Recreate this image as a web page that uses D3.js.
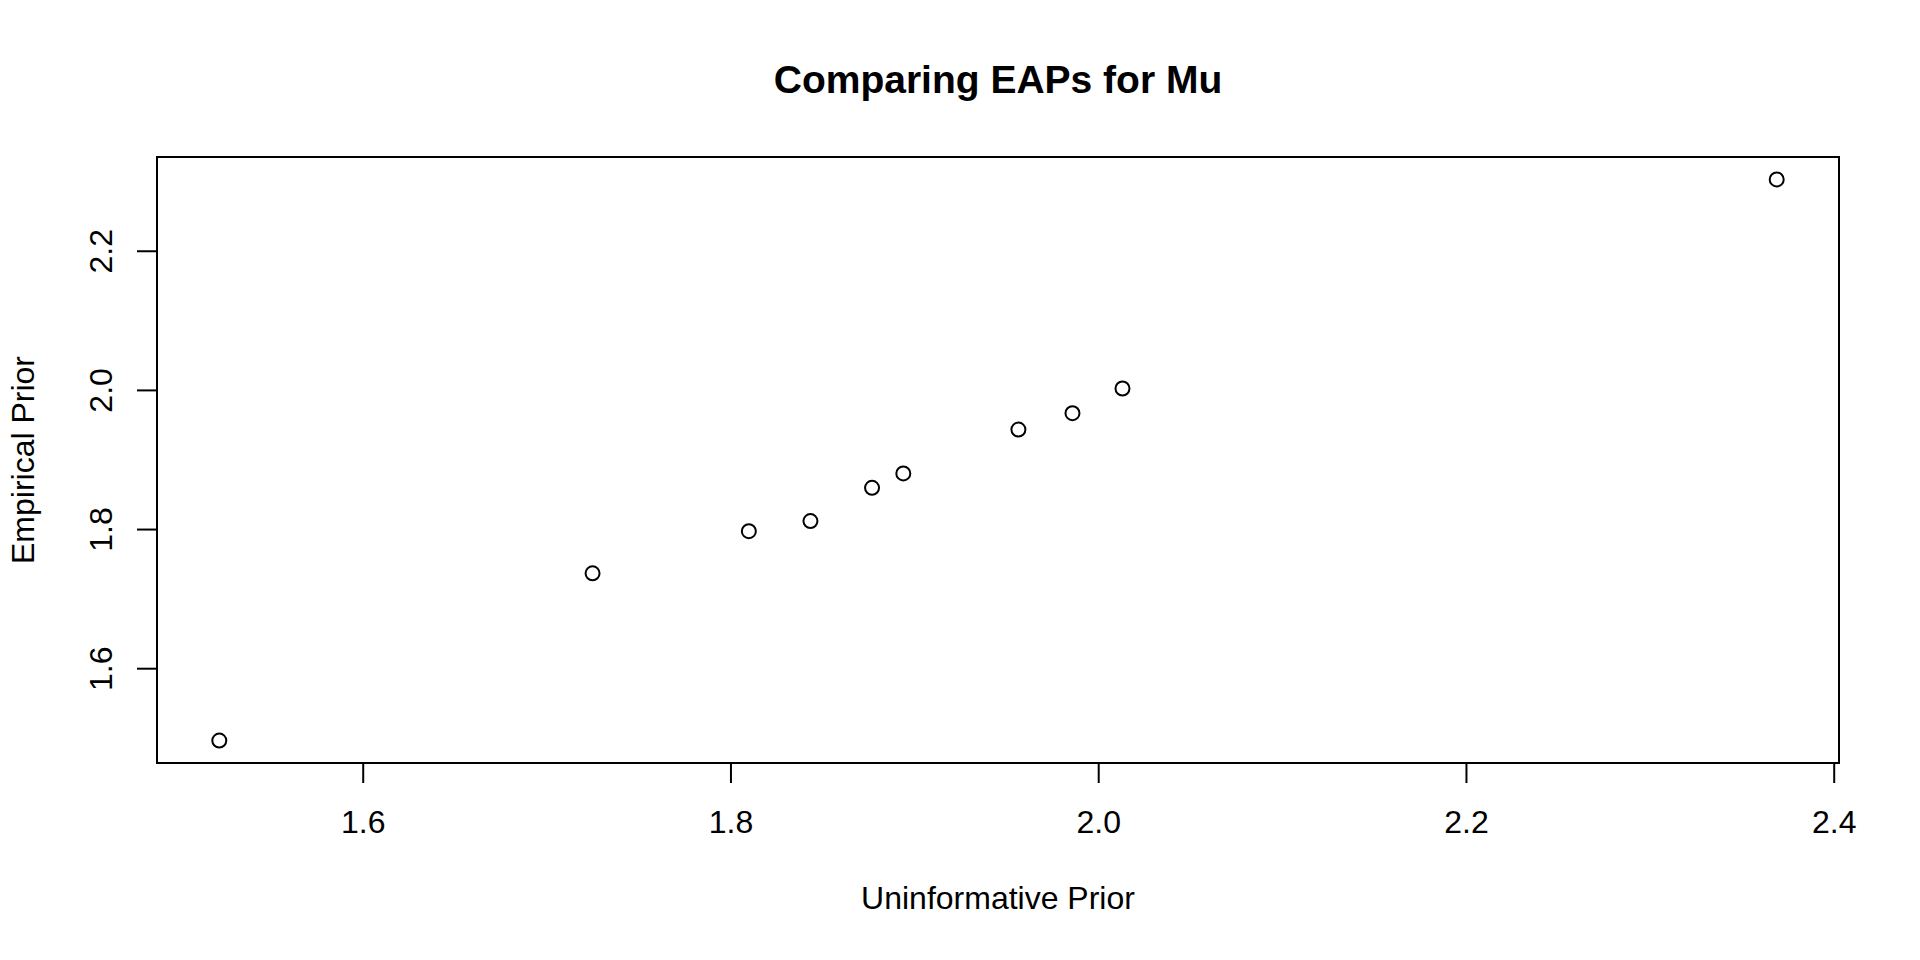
<!DOCTYPE html>
<html>
<head>
<meta charset="utf-8">
<script src="https://cdn.jsdelivr.net/npm/d3@7"></script>
<style>
  body { margin: 0; background: #fff; }
  svg text { font-family: "Liberation Sans", Arial, Helvetica, sans-serif; fill: #000; }
</style>
</head>
<body>
<svg id="chart" width="1920" height="960"></svg>
<script>
// EAP estimates for mu under the two priors
let uninformative = [1.522, 1.725, 1.810, 1.8435, 1.877, 1.894, 1.9566, 1.986, 2.0132, 2.369];
let empirical     = [1.496, 1.7364, 1.797, 1.8115, 1.8593, 1.880, 1.943, 1.9666, 2.002, 2.3025];
let xTicks = [1.6, 1.8, 2.0, 2.2, 2.4];
let yTicks = [1.6, 1.8, 2.0, 2.2];

let points = uninformative.map((u, i) => ({ x: u, y: empirical[i] }));

let svg = d3.select('#chart');
let plotLeft = 157, plotRight = 1839, plotTop = 157, plotBottom = 763;

// -- scales with R-style 4% padding -- //
let pad = ext => { let r = ext[1] - ext[0]; return [ext[0] - 0.04 * r, ext[1] + 0.04 * r]; };
let xScale = d3.scaleLinear().domain(pad(d3.extent(uninformative))).range([plotLeft, plotRight]);
let yScale = d3.scaleLinear().domain(pad(d3.extent(empirical))).range([plotBottom, plotTop]);

// -- axes -- //
let xAxis = svg.append('g')
    .attr('transform', `translate(0,${plotBottom})`)
    .call(d3.axisBottom(xScale).tickValues(xTicks).tickFormat(d3.format('.1f')).tickSize(20).tickPadding(27));
let yAxis = svg.append('g')
    .attr('transform', `translate(${plotLeft},0)`)
    .call(d3.axisLeft(yScale).tickValues(yTicks).tickFormat(d3.format('.1f')).tickSize(20));

[xAxis, yAxis].forEach(a => {
    a.select('.domain').remove();
    a.selectAll('line').attr('stroke', '#000').attr('stroke-width', 2);
    a.selectAll('text').style('font-size', '32px').attr('fill', '#000');
});

// axis line spans only from first to last tick, like R
svg.append('line')
    .attr('x1', xScale(xTicks[0])).attr('x2', xScale(xTicks[xTicks.length - 1]))
    .attr('y1', plotBottom).attr('y2', plotBottom)
    .attr('stroke', '#000').attr('stroke-width', 2);

// rotate the y tick labels
yAxis.selectAll('.tick text')
    .attr('x', null).attr('dy', null)
    .attr('text-anchor', 'middle')
    .attr('transform', 'translate(-45,0) rotate(-90)');

// -- plot box -- //
svg.append('rect')
    .attr('x', plotLeft).attr('y', plotTop)
    .attr('width', plotRight - plotLeft).attr('height', plotBottom - plotTop)
    .attr('fill', 'none').attr('stroke', '#000').attr('stroke-width', 2);

// -- points -- //
svg.selectAll('.point')
    .data(points)
    .enter().append('circle')
    .attr('class', 'point')
    .attr('cx', d => xScale(d.x))
    .attr('cy', d => yScale(d.y))
    .attr('r', 7)
    .style('fill', 'none')
    .style('stroke', 'black')
    .style('stroke-width', '2');

// -- titles -- //
svg.append('text')
    .attr('x', (plotLeft + plotRight) / 2).attr('y', 93)
    .attr('text-anchor', 'middle')
    .style('font-size', '39px').style('font-weight', 'bold')
    .text('Comparing EAPs for Mu');

svg.append('text')
    .attr('x', (plotLeft + plotRight) / 2).attr('y', 909)
    .attr('text-anchor', 'middle')
    .style('font-size', '32px')
    .text('Uninformative Prior');

svg.append('text')
    .attr('transform', `translate(34,${(plotTop + plotBottom) / 2}) rotate(-90)`)
    .attr('text-anchor', 'middle')
    .style('font-size', '32px')
    .text('Empirical Prior');
</script>
</body>
</html>
